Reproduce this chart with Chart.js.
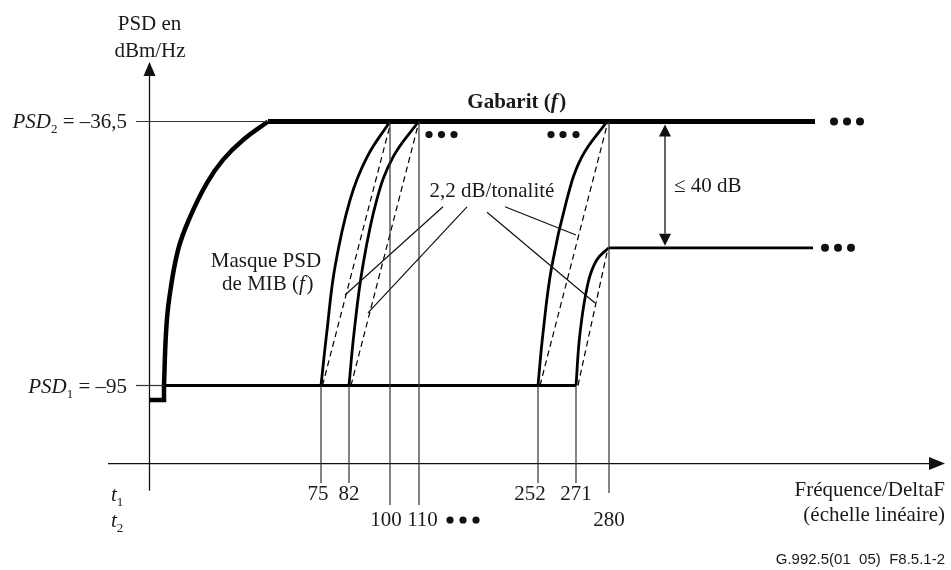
<!DOCTYPE html>
<html>
<head>
<meta charset="utf-8">
<script src="https://cdn.jsdelivr.net/npm/chart.js@4.4.1/dist/chart.umd.min.js"></script>
<style>
  html, body { margin: 0; padding: 0; background: #fff; }
  #wrap { width: 951px; height: 570px; }
</style>
</head>
<body>
<div id="wrap"><canvas id="psdChart" width="951" height="570"></canvas></div>
<script>
// levels, dBm/Hz (schematic)
const PSD2 = -36.5;
const PSD1 = -95;
const FLOOR = -98.2;
const LOW = -64.5;

// tone ticks: label, position on the schematic frequency axis, label row
const toneLabels = ['75', '82', '100', '110', '252', '271', '280'];
const tonePos = [171.5, 199.5, 240.5, 269.5, 388.5, 426.5, 459.5];
const toneLabelPos = [168.5, 199.5, 236.5, 273, 380.5, 426.5, 459.5];
const toneRow = [1, 1, 2, 2, 1, 1, 2];
const toneLineTop = [PSD1, PSD1, PSD2, PSD2, PSD1, PSD1, PSD2];
const toneLineBottom = [-116.6, -116.6, -121.5, -121.5, -116.6, -116.6, -118.8];

// Gabarit (f): initial step then rising curve up to PSD2
const riseX = [14.5, 16.5, 19.5, 28.5, 40.5, 57.5, 73.5, 93.5, 118.5];
const riseY = [PSD1, -83.4, -76.1, -65.0, -57.7, -50.1, -45.0, -40.6, PSD2];

// MIB mask edges (solid curves)
const edgeY = [PSD1, -83.4, -68.7, -53.9, -44.4, PSD2];
const edgeAX = [171.5, 177.2, 185.5, 200.5, 217.5, 240.5];
const edgeBX = [199.5, 204.5, 213.2, 227.2, 243.5, 269];
const edgeCX = [388.5, 393.5, 402.2, 417.2, 432.2, 457.5];
const edgeDX = [426.5, 430.5, 438.5, 447.2, 459];
const edgeDY = [PSD1, -83.4, -72.3, -67.2, LOW];

// 2,2 dB/tonalite slopes (dashed)
const slopes = [
  [[173, PSD1], [241.5, PSD2]],
  [[201.5, PSD1], [269.5, PSD2]],
  [[390.5, PSD1], [458.5, PSD2]],
  [[428.5, PSD1], [458.5, LOW]]
];

// leader lines from "2,2 dB/tonalité"
const leaders = [
  [[293.5, -55.4], [195.5, -74.95]],
  [[317.5, -55.4], [218.5, -78.9]],
  [[337.5, -56.6], [445.5, -76.7]],
  [[355.5, -55.4], [426.5, -61.65]]
];

// continuation dots
const dotsBig = [[684.5, PSD2], [697.5, PSD2], [710.5, PSD2], [675.5, LOW], [688.5, LOW], [701.5, LOW]];
const dotsSmall = [[279.5, -39.4], [292, -39.4], [304.5, -39.4], [401.5, -39.4], [413.5, -39.4], [426.5, -39.4],
                   [300.5, -124.8], [313.5, -124.8], [326.5, -124.8]];

const GABARIT_END = 665.5;
const LOW_END = 663.5;

const pts = (xs, ys) => xs.map((x, i) => ({ x: x, y: ys[i] }));
const seg = s => s.map(p => ({ x: p[0], y: p[1] }));

function lineSet(data, width, extra) {
  return Object.assign({
    data: data,
    showLine: true,
    borderColor: '#000',
    borderWidth: width,
    pointRadius: 0,
    fill: false,
    tension: 0
  }, extra || {});
}

const datasets = [];

// thin level lines at the y-axis
datasets.push(lineSet([{ x: -13.5, y: PSD2 }, { x: 118.5, y: PSD2 }], 1.2, { borderColor: '#333' }));
datasets.push(lineSet([{ x: -13.5, y: PSD1 }, { x: 14.5, y: PSD1 }], 1.2, { borderColor: '#333' }));

// thin vertical tone lines
tonePos.forEach((x, i) => {
  datasets.push(lineSet([{ x: x, y: toneLineTop[i] }, { x: x, y: toneLineBottom[i] }], 1.2, { borderColor: '#333' }));
});

// leaders
leaders.forEach(l => datasets.push(lineSet(seg(l), 1.2, { borderColor: '#111' })));

// dashed slopes
slopes.forEach(s => datasets.push(lineSet(seg(s), 1.2, { borderDash: [6, 4] })));

// floor step
datasets.push(lineSet([{ x: 0, y: FLOOR }, { x: 14.5, y: FLOOR }, { x: 14.5, y: PSD1 }], 4.5, { borderJoinStyle: 'miter' }));
// rise curve
datasets.push(lineSet(pts(riseX, riseY), 4.5, { tension: 0.4 }));
// top of gabarit
datasets.push(lineSet([{ x: 118.5, y: PSD2 }, { x: GABARIT_END, y: PSD2 }], 5));
// PSD1 floor of MIB mask
datasets.push(lineSet([{ x: 14.5, y: PSD1 }, { x: 426.5, y: PSD1 }], 3.2));
// mask edges
[edgeAX, edgeBX, edgeCX].forEach(xs => {
  datasets.push(lineSet(pts(xs, edgeY), 2.8, { tension: 0.4 }));
});
datasets.push(lineSet(pts(edgeDX, edgeDY), 2.8, { tension: 0.4 }));
// lower level after 280
datasets.push(lineSet([{ x: 459, y: LOW }, { x: LOW_END, y: LOW }], 2.8));

// dots
datasets.push({ data: seg(dotsBig), showLine: false, pointRadius: 4, pointBackgroundColor: '#111', pointBorderWidth: 0 });
datasets.push({ data: seg(dotsSmall), showLine: false, pointRadius: 3.6, pointBackgroundColor: '#111', pointBorderWidth: 0 });

const serif = '"Liberation Serif", "DejaVu Serif", serif';
const FS = 21;

function arrowHead(ctx, x, y, dir, len, half) {
  ctx.beginPath();
  if (dir === 'up') { ctx.moveTo(x, y); ctx.lineTo(x - half, y + len); ctx.lineTo(x + half, y + len); }
  if (dir === 'down') { ctx.moveTo(x, y); ctx.lineTo(x - half, y - len); ctx.lineTo(x + half, y - len); }
  if (dir === 'right') { ctx.moveTo(x, y); ctx.lineTo(x - len, y - half); ctx.lineTo(x - len, y + half); }
  ctx.closePath();
  ctx.fill();
}

// text with italic part and subscript
function subLabel(ctx, x, y, main, sub, rest, align) {
  ctx.textBaseline = 'alphabetic';
  ctx.font = 'italic ' + FS + 'px ' + serif;
  const w1 = ctx.measureText(main).width;
  ctx.font = '13px ' + serif;
  const w2 = ctx.measureText(sub).width;
  ctx.font = FS + 'px ' + serif;
  const w3 = ctx.measureText(rest).width;
  let x0 = align === 'right' ? x - (w1 + w2 + w3) : x;
  const base = y + 7;
  ctx.textAlign = 'left';
  ctx.font = 'italic ' + FS + 'px ' + serif;
  ctx.fillText(main, x0, base);
  ctx.font = '13px ' + serif;
  ctx.fillText(sub, x0 + w1, base + 5);
  ctx.font = FS + 'px ' + serif;
  ctx.fillText(rest, x0 + w1 + w2, base);
}

// centered text where a part is italic: parts = [[text, italic], ...]
function mixedCentered(ctx, cx, y, parts, weight) {
  const fonts = parts.map(p => (p[1] ? 'italic ' : '') + weight + FS + 'px ' + serif);
  const widths = parts.map((p, i) => { ctx.font = fonts[i]; return ctx.measureText(p[0]).width; });
  let x = cx - widths.reduce((s, w) => s + w, 0) / 2;
  ctx.textAlign = 'left';
  parts.forEach((p, i) => {
    ctx.font = fonts[i];
    ctx.fillText(p[0], x, y);
    x += widths[i] + (p[1] ? 1.5 : 0);
  });
}

const diagramPlugin = {
  id: 'diagram',
  beforeDatasetsDraw(chart) {
    const ctx = chart.ctx;
    const sx = chart.scales.x, sy = chart.scales.y;
    const X = v => sx.getPixelForValue(v), Y = v => sy.getPixelForValue(v);
    ctx.save();
    ctx.strokeStyle = '#111';
    ctx.fillStyle = '#111';
    ctx.lineWidth = 1.3;
    // y axis
    ctx.beginPath();
    ctx.moveTo(X(0), Y(-118.3));
    ctx.lineTo(X(0), Y(-25));
    ctx.stroke();
    arrowHead(ctx, X(0), Y(-23.3), 'up', 14, 6);
    // x axis
    ctx.beginPath();
    ctx.moveTo(X(-41.5), Y(-112.3));
    ctx.lineTo(X(782), Y(-112.3));
    ctx.stroke();
    arrowHead(ctx, X(795.5), Y(-112.3), 'right', 16, 6.5);
    // <= 40 dB double arrow
    ctx.beginPath();
    ctx.moveTo(X(515.5), Y(PSD2) + 14);
    ctx.lineTo(X(515.5), Y(LOW) - 14);
    ctx.stroke();
    arrowHead(ctx, X(515.5), Y(PSD2) + 3, 'up', 12, 6);
    arrowHead(ctx, X(515.5), Y(LOW) - 2, 'down', 12, 6);
    ctx.restore();
  },
  afterDraw(chart) {
    const ctx = chart.ctx;
    const sx = chart.scales.x, sy = chart.scales.y;
    const X = v => sx.getPixelForValue(v), Y = v => sy.getPixelForValue(v);
    ctx.save();
    ctx.fillStyle = '#1a1a1a';
    ctx.textBaseline = 'middle';

    ctx.font = FS + 'px ' + serif;
    ctx.textAlign = 'center';
    ctx.fillText('PSD en', X(0), Y(-15.1));
    ctx.fillText('dBm/Hz', X(0.5), Y(-20.9));
    ctx.fillText('Masque PSD', X(116.5), Y(-67.6));
    ctx.fillText('2,2 dB/tonalité', X(342.5), Y(-52.1));

    mixedCentered(ctx, X(117.5), Y(-72.7), [['de MIB (', false], ['f', true], [')', false]], '');
    mixedCentered(ctx, X(366.5), Y(-32.3), [['Gabarit (', false], ['f', true], [')', false]], 'bold ');

    ctx.font = FS + 'px ' + serif;
    ctx.textAlign = 'left';
    ctx.fillText('\u2264 40 dB', X(524.5), Y(-51.0));

    // tone labels
    ctx.textAlign = 'center';
    toneLabels.forEach((t, i) => {
      ctx.fillText(t, X(toneLabelPos[i]), Y(toneRow[i] === 1 ? -119.05 : -124.8));
    });

    // axis title
    ctx.textAlign = 'right';
    ctx.fillText('Fréquence/DeltaF', X(795.5), Y(-118.2));
    ctx.fillText('(échelle linéaire)', X(795.5), Y(-123.7));

    // level labels and t1/t2
    subLabel(ctx, X(-22.5), Y(PSD2), 'PSD', '2', ' = \u201336,5', 'right');
    subLabel(ctx, X(-22.5), Y(PSD1), 'PSD', '1', ' = \u201395', 'right');
    subLabel(ctx, X(-38.5), Y(-119.05), 't', '1', '', 'left');
    subLabel(ctx, X(-38.5), Y(-124.8), 't', '2', '', 'left');

    // footer
    ctx.textBaseline = 'middle';
    ctx.textAlign = 'right';
    ctx.font = '15px "Liberation Sans", Arial, sans-serif';
    ctx.fillText('G.992.5(01  05)  F8.5.1-2', X(795.5), Y(-133.7));
    ctx.restore();
  }
};

new Chart(document.getElementById('psdChart'), {
  type: 'scatter',
  data: { datasets: datasets },
  options: {
    responsive: false,
    animation: false,
    layout: { padding: 0, autoPadding: false },
    plugins: { legend: { display: false }, tooltip: { enabled: false } },
    scales: {
      x: { type: 'linear', display: false, min: -149.5, max: 801.5 },
      y: { type: 'linear', display: false, min: -135.88, max: -9.58 }
    }
  },
  plugins: [diagramPlugin]
});
</script>
</body>
</html>
